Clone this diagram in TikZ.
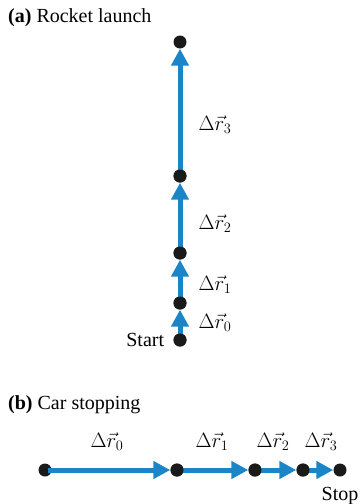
\documentclass[tikz,border=0pt]{standalone}
\usepackage{fontspec}
\setmainfont{Liberation Serif}
\usetikzlibrary{positioning,arrows.meta}
\definecolor{vecblue}{HTML}{1A86C8}
\definecolor{dotblack}{HTML}{1A1A1A}

\tikzset{
  dot/.style={circle, fill=dotblack, inner sep=0pt, minimum size=13pt},
  dispvec/.style={draw=vecblue, line width=5pt, -{Triangle[length=17pt,width=17pt]}, shorten <=-4pt},
  vlabel/.style={font=\fontsize{20}{24}\selectfont, inner sep=0pt},
  caption/.style={font=\fontsize{20}{24}\selectfont, anchor=west, inner sep=0pt}
}

\begin{document}
\begin{tikzpicture}[x=1pt,y=-1pt]
\useasboundingbox (0,0) rectangle (361,504);

% (a) rocket launch
\node[caption] (capa) at (8,18) {\textbf{(a)} Rocket launch};
\node[dot] (a0) at (180,340) {};
\node[dot] (a1) at (180,303) {};
\node[dot] (a2) at (180,253) {};
\node[dot] (a3) at (180,176) {};
\node[dot] (a4) at (180,42) {};
\draw[dispvec] (a0) -- (a1);
\draw[dispvec] (a1) -- (a2);
\draw[dispvec] (a2) -- (a3);
\draw[dispvec] (a3) -- (a4);
\node[dot] at (a0) {};\node[dot] at (a1) {};\node[dot] at (a2) {};\node[dot] at (a3) {};
\node[vlabel] (ra0) at (215,323) {$\Delta\vec{r}_0$};
\node[vlabel] (ra1) at (215,285) {$\Delta\vec{r}_1$};
\node[vlabel] (ra2) at (215,224) {$\Delta\vec{r}_2$};
\node[vlabel] (ra3) at (215,125) {$\Delta\vec{r}_3$};
\node[vlabel, left=9pt of a0] (start) {Start};

% (b) car stopping
\node[caption] (capb) at (8,405) {\textbf{(b)} Car stopping};
\node[dot] (b0) at (45,470) {};
\node[dot] (b1) at (177,470) {};
\node[dot] (b2) at (255,470) {};
\node[dot] (b3) at (303,470) {};
\node[dot] (b4) at (340,470) {};
\draw[dispvec] (b0) -- (b1);
\draw[dispvec] (b1) -- (b2);
\draw[dispvec] (b2) -- (b3);
\draw[dispvec] (b3) -- (b4);
\node[dot] at (b1) {};\node[dot] at (b2) {};\node[dot] at (b3) {};
\node[vlabel] (rb0) at (107,442) {$\Delta\vec{r}_0$};
\node[vlabel] (rb1) at (212,442) {$\Delta\vec{r}_1$};
\node[vlabel] (rb2) at (273,442) {$\Delta\vec{r}_2$};
\node[vlabel] (rb3) at (321,442) {$\Delta\vec{r}_3$};
\node[vlabel, below=10pt of b4] (stop) {Stop};
\end{tikzpicture}
\end{document}
